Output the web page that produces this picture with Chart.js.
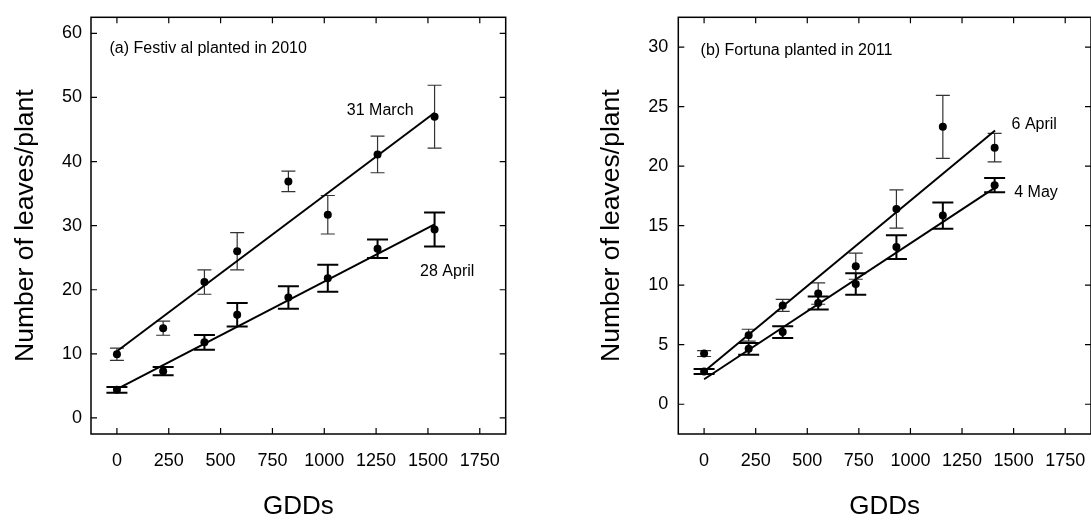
<!DOCTYPE html>
<html>
<head>
<meta charset="utf-8">
<script src="https://cdn.jsdelivr.net/npm/chart.js@4.4.1/dist/chart.umd.min.js"></script>
<style>
  html, body { margin: 0; padding: 0; background: #fff; overflow: hidden; width: 1091px; height: 520px; }
  .panel { position: absolute; top: 0; height: 520px; }
  #left { left: 0; width: 545px; }
  #right { left: 545px; width: 550px; }
</style>
</head>
<body>
<div class="panel" id="left"><canvas id="chart-a"></canvas></div>
<div class="panel" id="right"><canvas id="chart-b"></canvas></div>
<script>
// tick labels
const gddTicks = [0, 250, 500, 750, 1000, 1250, 1500, 1750];
const festivalYTicks = [0, 10, 20, 30, 40, 50, 60];
const fortunaYTicks = [0, 5, 10, 15, 20, 25, 30];

// (a) Festival 2010
const festivalGdd = [0, 223, 422, 580, 827, 1017, 1257, 1532];
const festival31Mar = [9.95, 14.0, 21.2, 26.0, 36.9, 31.7, 41.1, 47.0];
const festival31MarErr = [0.95, 1.1, 1.9, 2.9, 1.6, 3.0, 2.85, 4.9];
const festival28Apr = [4.4, 7.3, 11.8, 16.1, 18.8, 21.8, 26.4, 29.4];
const festival28AprErr = [0.45, 0.65, 1.15, 1.85, 1.75, 2.1, 1.45, 2.65];
const festivalFitX = [0, 1532];
const festivalFit31Mar = [10.4, 47.6];
const festivalFit28Apr = [4.5, 30.2];

// (b) Fortuna 2011
const fortunaGdd = [0, 216, 381, 553, 735, 932, 1157, 1408];
const fortuna6Apr = [4.26, 5.8, 8.3, 9.3, 11.6, 16.4, 23.3, 21.55];
const fortuna6AprErr = [0.25, 0.5, 0.5, 0.9, 1.1, 1.6, 2.65, 1.2];
const fortuna4May = [2.75, 4.65, 6.06, 8.5, 10.1, 13.2, 15.85, 18.4];
const fortuna4MayErr = [0.2, 0.5, 0.5, 0.55, 0.9, 1.0, 1.1, 0.6];
const fortunaFitX = [0, 1410];
const fortunaFit6Apr = [2.75, 23.0];
const fortunaFit4May = [2.1, 18.2];

const FONT = '"Liberation Sans", Arial, sans-serif';

function pts(xs, ys) {
    return xs.map((x, i) => ({ x: x, y: ys[i] }));
}

// error bars drawn through the chart scales
const errorBars = {
    id: 'errorBars',
    beforeDatasetsDraw(chart) {
        const { ctx, scales: { x, y } } = chart;
        chart.data.datasets.forEach(ds => {
            if (!ds.errors) return;
            ctx.save();
            ctx.strokeStyle = ds.errColor;
            ctx.lineWidth = ds.errWidth;
            ctx.beginPath();
            ds.data.forEach((p, i) => {
                const px = x.getPixelForValue(p.x);
                const top = y.getPixelForValue(p.y + ds.errors[i]);
                const bot = y.getPixelForValue(p.y - ds.errors[i]);
                ctx.moveTo(px, top); ctx.lineTo(px, bot);
                ctx.moveTo(px - ds.cap, top); ctx.lineTo(px + ds.cap, top);
                ctx.moveTo(px - ds.cap, bot); ctx.lineTo(px + ds.cap, bot);
            });
            ctx.stroke();
            ctx.restore();
        });
    }
};

// box frame with inward ticks on all four sides, plus text notes
const frame = {
    id: 'frame',
    afterDraw(chart, args, opts) {
        const { ctx, chartArea: a, scales: { x, y } } = chart;
        ctx.save();
        ctx.strokeStyle = '#000';
        ctx.lineWidth = 1.5;
        ctx.strokeRect(a.left, a.top, a.right - a.left, a.bottom - a.top);
        ctx.lineWidth = 1.2;
        ctx.beginPath();
        opts.xTicks.forEach(v => {
            const px = x.getPixelForValue(v);
            ctx.moveTo(px, a.top); ctx.lineTo(px, a.top + 6);
            ctx.moveTo(px, a.bottom); ctx.lineTo(px, a.bottom - 6);
        });
        opts.yTicks.forEach(v => {
            const py = y.getPixelForValue(v);
            ctx.moveTo(a.left, py); ctx.lineTo(a.left + 6, py);
            ctx.moveTo(a.right, py); ctx.lineTo(a.right - 6, py);
        });
        ctx.stroke();
        ctx.fillStyle = '#000';
        ctx.font = '16px ' + FONT;
        ctx.textBaseline = 'alphabetic';
        ctx.textAlign = 'left';
        opts.notes.forEach(n => {
            ctx.fillText(n.text, x.getPixelForValue(n.x), y.getPixelForValue(n.y));
        });
        ctx.restore();
    }
};

function makeChart(id, o) {
    const pointSet = (xs, ys, errs, thick) => ({
        data: pts(xs, ys),
        errors: errs,
        errColor: thick ? '#000' : '#333',
        errWidth: thick ? 2 : 1.2,
        cap: thick ? 10.5 : 7,
        showLine: false,
        pointRadius: 4,
        pointBackgroundColor: '#000',
        pointBorderWidth: 0
    });
    const fitSet = (xs, ys) => ({
        data: pts(xs, ys),
        showLine: true,
        borderColor: '#000',
        borderWidth: 2,
        pointRadius: 0,
        fill: false
    });
    return new Chart(document.getElementById(id), {
        type: 'scatter',
        data: {
            datasets: [
                fitSet(o.fitX, o.fitA),
                fitSet(o.fitX, o.fitB),
                pointSet(o.gdd, o.a, o.aErr, false),
                pointSet(o.gdd, o.b, o.bErr, true)
            ]
        },
        options: {
            responsive: true,
            maintainAspectRatio: false,
            animation: false,
            layout: { padding: { top: 17.3, right: o.padRight, bottom: 0, left: 0 } },
            plugins: {
                legend: { display: false },
                tooltip: { enabled: false },
                frame: { xTicks: gddTicks, yTicks: o.yTicks, notes: o.notes }
            },
            scales: {
                x: {
                    type: 'linear',
                    min: -125, max: 1875,
                    grid: { display: false, drawTicks: false },
                    border: { display: false },
                    afterBuildTicks: s => { s.ticks = gddTicks.map(v => ({ value: v })); },
                    afterFit: s => { s.height = 86; s.paddingLeft = 0; s.paddingRight = 0; },
                    ticks: { color: '#000', padding: 16, maxRotation: 0, callback: v => String(v),
                             font: { family: FONT, size: 18 } },
                    title: { display: true, text: 'GDDs', color: '#000', padding: { top: 0, bottom: 0 },
                             font: { family: FONT, size: 26, lineHeight: 1 } }
                },
                y: {
                    type: 'linear',
                    min: o.yMin, max: o.yMax,
                    grid: { display: false, drawTicks: false },
                    border: { display: false },
                    afterBuildTicks: s => { s.ticks = o.yTicks.map(v => ({ value: v })); },
                    afterFit: s => { s.width = o.yWidth; s.paddingTop = 0; s.paddingBottom = 0; },
                    ticks: { color: '#000', padding: o.yPad, callback: v => String(v),
                             font: { family: FONT, size: 18 } },
                    title: { display: true, text: 'Number of leaves/plant', color: '#000',
                             padding: { top: o.titlePad, bottom: 0 },
                             font: { family: FONT, size: 26.5, lineHeight: 1 } }
                }
            }
        },
        plugins: [errorBars, frame]
    });
}

makeChart('chart-a', {
    gdd: festivalGdd, a: festival31Mar, aErr: festival31MarErr, b: festival28Apr, bErr: festival28AprErr,
    fitX: festivalFitX, fitA: festivalFit31Mar, fitB: festivalFit28Apr,
    yMin: -2.5, yMax: 62.5, yTicks: festivalYTicks,
    yWidth: 91, yPad: 9, titlePad: 12, padRight: 39.3,
    notes: [
        { text: '(a) Festiv al planted in 2010', x: -36, y: 57.0 },
        { text: '31 March', x: 1109, y: 47.3 },
        { text: '28 April', x: 1462, y: 22.2 }
    ]
});

makeChart('chart-b', {
    gdd: fortunaGdd, a: fortuna6Apr, aErr: fortuna6AprErr, b: fortuna4May, bErr: fortuna4MayErr,
    fitX: fortunaFitX, fitA: fortunaFit6Apr, fitB: fortunaFit4May,
    yMin: -2.5, yMax: 32.5, yTicks: fortunaYTicks,
    yWidth: 133.3, yPad: 10, titlePad: 53, padRight: 2,
    notes: [
        { text: '(b) Fortuna planted in 2011', x: -17, y: 29.3 },
        { text: '6 April', x: 1490, y: 23.1 },
        { text: '4 May', x: 1503, y: 17.4 }
    ]
});
</script>
</body>
</html>
